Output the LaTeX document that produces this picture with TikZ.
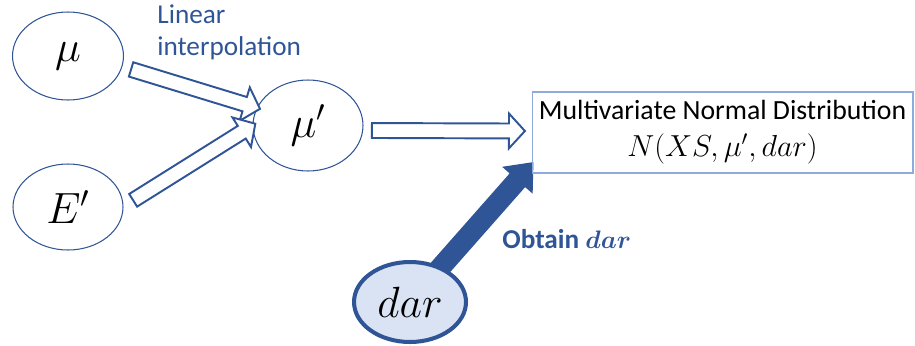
\documentclass[tikz,border=0pt]{standalone}
\usepackage{fontspec}
\setmainfont{Carlito}
\usepackage{bm}
\usetikzlibrary{shapes.geometric,shapes.arrows,calc,backgrounds}

\definecolor{darkblue}{HTML}{2F5597}
\definecolor{boxblue}{HTML}{8FAADC}
\definecolor{fillblue}{HTML}{DAE3F3}

\tikzset{
	var/.style={ellipse, draw=darkblue, line width=0.6pt, minimum width=2.22cm, minimum height=1.76cm, font=\fontsize{23}{26}\selectfont},
	hollow/.style={single arrow, draw=darkblue, fill=white, line width=1.1pt, inner xsep=0pt, inner ysep=0.13cm, single arrow head extend=0.2cm, single arrow tip angle=95},
	bold arrow/.style={single arrow, fill=darkblue, inner xsep=0pt, inner ysep=0.2cm, single arrow head extend=0.2cm, single arrow tip angle=80},
}

% block arrow from #2 to #3
\newcommand{\blockarrow}[3][hollow]{%
	\path let \p1=($(#3)-(#2)$), \n1={veclen(\x1,\y1)}, \n2={atan2(\y1,\x1)} in
		node[#1, minimum height=\n1, rotate=\n2] at ($(#2)!0.5!(#3)$) {};}

\begin{document}
\begin{tikzpicture}[x=0.02cm,y=-0.02cm]
	\useasboundingbox (0,0) rectangle (915,345);
	\node[var] (mu) at (68,56) {$\mu$};
	\node[var, minimum width=2.2cm, minimum height=1.72cm] (Ep) at (68,207) {$E'$};
	\node[var, minimum width=2.2cm, minimum height=1.82cm] (mup) at (308,125.5) {$\mu'$};
	\node[draw=boxblue, line width=0.6pt, minimum width=7.62cm, minimum height=1.62cm, align=center] (dist) at (722.5,132.5)
		{\fontsize{15.8}{19}\selectfont Multivariate Normal Distribution\\[7pt]
		 \fontsize{17}{19}\selectfont $N(XS,\mu',dar)$};
	\node[ellipse, draw=darkblue, line width=2.3pt, fill=fillblue, minimum width=2.24cm, minimum height=1.6cm, font=\fontsize{23}{26}\selectfont] (dar) at (410,302) {$dar$};
	\node[anchor=base west, inner sep=0pt, text=darkblue, align=left, font=\fontsize{15.5}{18.1}\selectfont] (interp) at (157,55) {Linear\\interpolation};
	\node[anchor=base west, inner sep=0pt, text=darkblue, font=\bfseries\fontsize{15.5}{18}\selectfont] (obtain) at (502,248) {Obtain $\bm{dar}$};

	\blockarrow{[xshift=0.12cm]mu.-13}{mup.161}
	\blockarrow{[xshift=0.14cm]Ep.5}{mup.180}
	\blockarrow{[xshift=0.1cm,yshift=-0.1cm]mup.east}{[xshift=-0.2cm,yshift=0.03cm]dist.west}
	\begin{scope}[on background layer]
		\blockarrow[bold arrow]{dar.center}{[xshift=-0.04cm,yshift=0.14cm]dist.south west}
	\end{scope}
\end{tikzpicture}
\end{document}
